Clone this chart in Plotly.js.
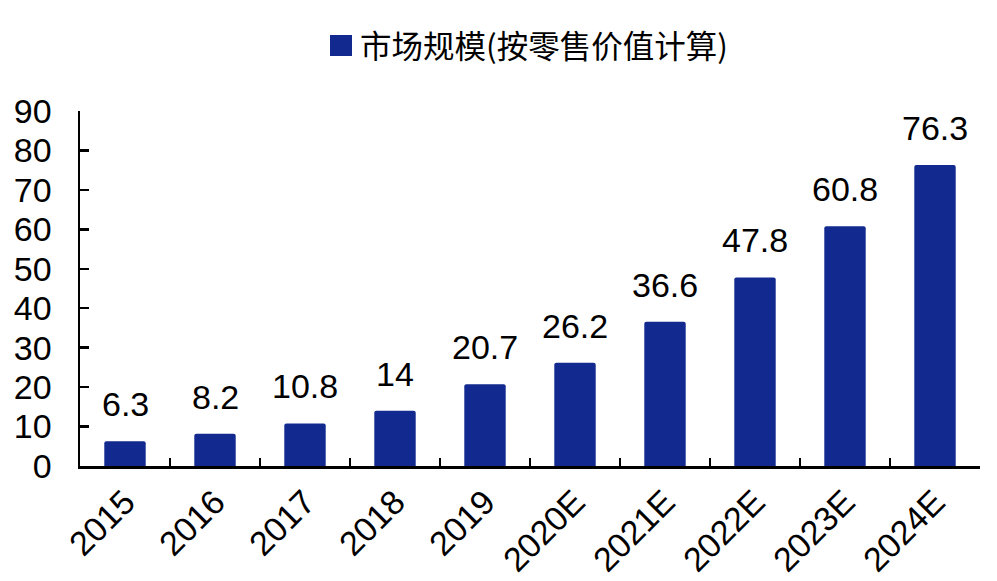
<!DOCTYPE html>
<html>
<head>
<meta charset="utf-8">
<script src="https://cdn.plot.ly/plotly-3.0.1.min.js"></script>
<style>html,body{margin:0;padding:0;background:#fff;}#chart{width:997px;height:581px;}</style>
</head>
<body>
<div id="chart"></div>
<script>
const categories = ["2015","2016","2017","2018","2019","2020E","2021E","2022E","2023E","2024E"];
const values = [6.3, 8.2, 10.8, 14, 20.7, 26.2, 36.6, 47.8, 60.8, 76.3];
const seriesName = "市场规模(按零售价值计算)";
const yTicks = [0,10,20,30,40,50,60,70,80,90];

const barColor = "#12298f";
const numFont = {family: "Liberation Sans, Arial, sans-serif", size: 34, color: "#000"};

const trace = {
  type: "bar",
  x: categories,
  y: values,
  name: seriesName,
  marker: {color: barColor, cornerradius: 2},
  width: 0.46,
  hoverinfo: "x+y",
  showlegend: false
};

const annotations = categories.map((c, i) => ({
  x: i, y: values[i], xref: "x", yref: "y",
  text: String(values[i]),
  showarrow: false, yanchor: "bottom", yshift: 16,
  font: numFont
}));

annotations.push({
  xref: "paper", yref: "paper", x: 0.309, y: 1.19, xanchor: "left", yanchor: "middle",
  text: seriesName, showarrow: false,
  font: {family: "Noto Sans CJK SC, sans-serif", size: 31.5, color: "#000"}
});

const layout = {
  width: 997, height: 581,
  margin: {l: 80, r: 17, t: 111, b: 115},
  paper_bgcolor: "#fff", plot_bgcolor: "#fff",
  showlegend: false,
  bargap: 0.54,
  xaxis: {
    type: "category",
    showline: true, linecolor: "#000", linewidth: 2.5,
    ticks: "inside", ticklen: 8, tickwidth: 2.5, tickcolor: "#000",
    tickson: "boundaries",
    tickangle: -45,
    tickfont: numFont,
    showgrid: false, zeroline: false,
    range: [-0.5, 9.5]
  },
  yaxis: {
    range: [0, 90],
    tickvals: yTicks,
    ticktext: yTicks.map(String),
    showline: true, linecolor: "#000", linewidth: 2.5,
    ticks: "inside", ticklen: 9, tickwidth: 2.5, tickcolor: "#000",
    ticklabelstandoff: 19,
    tickfont: numFont,
    showgrid: false, zeroline: false
  },
  shapes: [{
    type: "rect", xref: "paper", yref: "paper",
    x0: (330-80)/900, x1: (352-80)/900,
    y0: (466-56)/355, y1: (466-35)/355,
    fillcolor: barColor, line: {width: 0}
  }],
  annotations: annotations
};

Plotly.newPlot("chart", [trace], layout, {displayModeBar: false, staticPlot: true});
</script>
</body>
</html>
